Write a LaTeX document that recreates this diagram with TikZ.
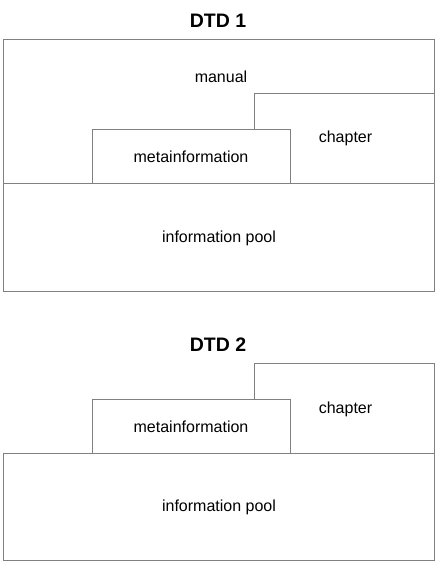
\documentclass[tikz,border=0pt]{standalone}
\usepackage{fontspec}
\setmainfont{Liberation Sans}
\definecolor{boxline}{RGB}{128,128,128}
\tikzset{
	box/.style={draw=boxline, line width=0.9pt, fill=white},
	lbl/.style={font=\fontsize{16}{19}\selectfont, inner sep=0pt},
	ttl/.style={font=\fontsize{19.5}{23}\selectfont\bfseries, inner sep=0pt}
}
\begin{document}
\begin{tikzpicture}[x=1pt, y=-1pt]
			\useasboundingbox (0,0) rectangle (437,564);

			% DTD 1
			\node[ttl] (title1) at (218,21) {DTD 1};
			\draw[box] (3,39.5) rectangle (434.7,291.5);
			\draw[box] (254.7,93.3) rectangle (434.7,183);
			\draw[box] (92.3,129.3) rectangle (290.3,183);
			\draw[boxline, line width=0.9pt] (3,183) -- (434.7,183);
			\node[lbl] (manual1) at (221,77) {manual};
			\node[lbl] (chapter1) at (345.5,138.5) {chapter};
			\node[lbl] (meta1) at (191,157) {metainformation};
			\node[lbl] (pool1) at (219,238) {information pool};

			% DTD 2
			\node[ttl] (title2) at (218,345) {DTD 2};
			\draw[box] (254.7,363.3) rectangle (434.7,453.3);
			\draw[box] (92.3,399.3) rectangle (290.3,453.3);
			\draw[box] (3,453.3) rectangle (434.7,560.7);
			\node[lbl] (chapter2) at (345.5,409.3) {chapter};
			\node[lbl] (meta2) at (191,427) {metainformation};
			\node[lbl] (pool2) at (219,507.7) {information pool};
		\end{tikzpicture}
\end{document}
